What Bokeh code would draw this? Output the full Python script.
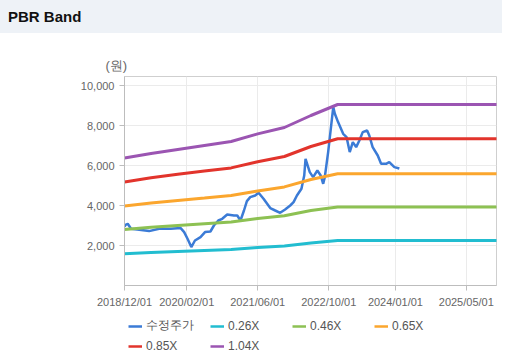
import pandas as pd
from bokeh.plotting import figure
from bokeh.models import (DatetimeTickFormatter, FixedTicker, NumeralTickFormatter,
                          Legend, LegendItem, Div, Range1d)
from bokeh.layouts import column
from bokeh.embed import file_html
from bokeh.resources import INLINE

# ---------------- data ----------------
price_dates = ["2018-12-01", "2018-12-08", "2018-12-23", "2019-01-15", "2019-03-12", "2019-05-19",
               "2019-07-26", "2019-10-14", "2019-12-21", "2020-01-14", "2020-02-06", "2020-03-03",
               "2020-03-28", "2020-05-05", "2020-06-05", "2020-07-12", "2020-08-05", "2020-09-04",
               "2020-10-01", "2020-11-04", "2020-12-20", "2021-01-12", "2021-02-03", "2021-02-27",
               "2021-03-19", "2021-04-11", "2021-05-15", "2021-06-07", "2021-07-11", "2021-08-26",
               "2021-09-29", "2021-11-02", "2021-12-06", "2022-01-10", "2022-02-02", "2022-02-25",
               "2022-03-28", "2022-04-16", "2022-04-25", "2022-05-24", "2022-06-16", "2022-07-15",
               "2022-08-07", "2022-08-24", "2022-09-04", "2022-09-27", "2022-11-01", "2022-11-12",
               "2022-12-04", "2023-01-08", "2023-01-31", "2023-02-22", "2023-03-15", "2023-04-07",
               "2023-04-29", "2023-05-22", "2023-06-21", "2023-07-06", "2023-07-29", "2023-09-02",
               "2023-09-25", "2023-10-29", "2023-11-20", "2023-12-25", "2024-01-28"]
price_values = [2950, 3035, 3085, 2835, 2785, 2720,
                2835, 2835, 2870, 2670, 2335, 1920,
                2250, 2420, 2670, 2700, 3000, 3250,
                3335, 3550, 3500, 3500, 3250, 3750,
                4220, 4420, 4500, 4635, 4335, 3870,
                3750, 3635, 3800, 4000, 4170, 4500,
                4835, 5500, 6335, 5670, 5420, 5750,
                5500, 5085, 5420, 6670, 8920, 8585,
                8170, 7585, 7420, 6670, 7170, 6920,
                7250, 7670, 7750, 7500, 6920, 6500,
                6085, 6085, 6170, 5920, 5850]

band_dates = ["2018-12-01", "2019-06-01", "2019-12-01", "2020-06-01", "2020-12-01",
              "2021-06-01", "2021-12-01", "2022-06-01", "2022-12-01", "2025-12-01"]
band_026 = [1590, 1650, 1700, 1750, 1800, 1895, 1975, 2125, 2250, 2250]
band_046 = [2800, 2910, 3000, 3090, 3180, 3350, 3490, 3750, 3930, 3930]
band_065 = [3980, 4120, 4250, 4370, 4500, 4730, 4930, 5300, 5590, 5590]
band_085 = [5180, 5390, 5560, 5720, 5880, 6190, 6450, 6950, 7340, 7340]
band_104 = [6370, 6600, 6800, 7000, 7200, 7580, 7900, 8500, 9050, 9050]

series_names = ["수정주가", "0.26X", "0.46X", "0.65X", "0.85X", "1.04X"]
tick_dates = ["2018-12-01", "2020-02-01", "2021-06-01", "2022-10-01", "2024-01-01", "2025-05-01"]
y_ticks = [2000, 4000, 6000, 8000, 10000]

colors = ["#3b7bd6", "#22bdd0", "#8dc153", "#fba62e", "#e2342c", "#9b55b2"]

# ---------------- main plot ----------------
pd_price = pd.to_datetime(price_dates)
pd_band = pd.to_datetime(band_dates)

p = figure(width=502, height=280, x_axis_type="datetime", output_backend="svg",
           toolbar_location=None,
           x_range=Range1d(pd.Timestamp("2018-12-01"), pd.Timestamp("2025-11-24")),
           y_range=Range1d(0, 10450),
           min_border_left=122, min_border_right=6, min_border_top=43, min_border_bottom=28)

p.line(pd_price, price_values, color=colors[0], line_width=2.5)
for vals, c in zip([band_026, band_046, band_065, band_085, band_104], colors[1:]):
    p.line(pd_band, vals, color=c, line_width=3)

tick_ms = [pd.Timestamp(d).value // 10**6 for d in tick_dates]
p.xaxis.ticker = FixedTicker(ticks=tick_ms)
fmt = "%Y/%m/%d"
p.xaxis.formatter = DatetimeTickFormatter(milliseconds=fmt, seconds=fmt, minsec=fmt, minutes=fmt,
                                          hourmin=fmt, hours=fmt, days=fmt, months=fmt, years=fmt)
p.yaxis.ticker = FixedTicker(ticks=y_ticks)
p.yaxis.formatter = NumeralTickFormatter(format="0,0")

for ax in [p.xaxis[0], p.yaxis[0]]:
    ax.axis_line_color = "#bdbdbd"
    ax.major_tick_line_color = "#bdbdbd"
    ax.major_tick_out = 5
    ax.major_tick_in = 0
    ax.minor_tick_line_color = None
    ax.major_label_text_font = "Liberation Sans"
    ax.major_label_text_font_size = "11px"
    ax.major_label_text_color = "#666666"
    ax.major_label_standoff = 5

p.grid.grid_line_color = "#ebebeb"
p.outline_line_color = "#cfcfcf"
p.background_fill_color = "white"
p.border_fill_color = "white"

# unit label above the y axis
p.title.text = "(원)"
p.title.align = "left"
p.title.offset = -19
p.title.standoff = 7
p.title.text_font = "Liberation Sans"
p.title.text_font_size = "13px"
p.title.text_font_style = "normal"
p.title.text_color = "#666666"

# ---------------- legend strip ----------------
lg = figure(width=502, height=40, output_backend="svg", toolbar_location=None,
            x_range=Range1d(0, 1), y_range=Range1d(0, 1),
            x_axis_location=None, y_axis_location=None,
            min_border_left=124, min_border_right=0, min_border_top=0, min_border_bottom=0)
lg.grid.visible = False
lg.outline_line_color = None
lg.border_fill_color = "white"
lg.background_fill_color = "white"

nan = float("nan")
dummies = [lg.line(x=[nan], y=[nan], color=c, line_width=2.5) for c in colors]
legend = Legend(items=[LegendItem(label=n, renderers=[r]) for n, r in zip(series_names, dummies)],
                orientation="horizontal", ncols=4, location="top_left",
                glyph_width=14, glyph_height=16, label_height=16, label_width=60,
                label_standoff=4, spacing=4, padding=0, margin=4,
                label_text_font="Liberation Sans", label_text_font_size="12px",
                label_text_color="#555555", border_line_color=None,
                background_fill_alpha=0)
lg.add_layout(legend)

header = Div(text='<div style="padding:8px 0 0 8px;">PBR Band</div>', width=502, height=33,
             margin=(0, 0, 0, 0),
             styles={"background-color": "#eef2f7", "font-family": "Liberation Sans",
                     "font-weight": "bold", "font-size": "15px", "color": "#111111",
                     "line-height": "17px"})

layout = column(header, p, lg, spacing=0)
open("out.html", "w").write(file_html(layout, INLINE))
